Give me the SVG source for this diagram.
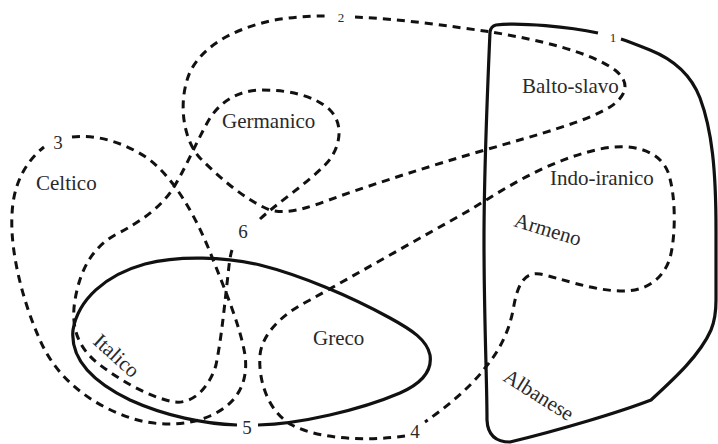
<svg xmlns="http://www.w3.org/2000/svg" width="718" height="444" viewBox="0 0 718 444">
<style>
.solid{fill:none;stroke:#111;stroke-width:3.2;stroke-linejoin:round;stroke-linecap:butt}
.dash{fill:none;stroke:#111;stroke-width:3;stroke-dasharray:8 6}
.lbl{font-family:"Liberation Serif","Times New Roman",serif;font-size:21px;fill:#2a2a2a}
.num{font-family:"Liberation Serif","Times New Roman",serif;font-size:19px;fill:#2a2a2a;text-anchor:middle}
.sm{font-size:13px}
</style>
<rect width="718" height="444" fill="#fff"/>
<g id="connectors">
<path id="c1" class="solid" d="M 598,33 C 570,27 520,22 496,25 Q 491,26 490,32 C 487,100 484,180 484,240 C 484,320 487,380 487,420 Q 488,442 510,442 C 560,430 620,412 651,400 C 675,378 700,355 711,330 Q 716,318 716,300 L 716,230 C 716,170 712,130 700,98 C 690,72 670,58 650,50 C 640,46 630,42 621,39"/>
<path id="c2" class="dash" d="M 355,17 C 400,19 450,26 491,32 C 540,40 590,52 615,70 C 630,82 628,95 610,107 C 585,122 540,134 485,150 C 430,166 380,182 340,196 C 310,207 290,215 270,210 C 245,200 220,178 200,158 C 182,138 178,100 190,72 C 205,42 240,28 270,21 C 290,17 310,16 325,16"/>
<path id="c3" class="dash" d="M 72,137 C 95,134 125,142 150,160 C 175,180 195,215 210,252 C 225,290 240,325 245,355 C 249,385 235,405 210,416 C 185,427 150,427 120,414 C 85,400 55,375 40,340 C 22,300 10,250 12,215 C 13,185 25,162 44,147"/>
<path id="c6" class="dash" d="M 260,219 C 275,205 305,185 325,165 C 340,150 345,125 330,110 C 315,96 290,90 262,90 C 240,90 222,100 210,118 C 198,138 185,170 172,190 C 160,208 140,222 115,235 C 92,248 80,270 75,300 C 70,330 80,350 100,365 C 120,380 150,398 175,402 C 195,404 210,385 216,365 C 222,335 225,300 228,275 C 229,265 230,256 232,250"/>
<path id="c5" class="solid" d="M 258,425 C 300,424 360,410 400,393 C 425,382 432,368 430,355 C 427,340 412,330 390,318 C 350,296 300,275 260,265 C 225,257 180,255 145,264 C 105,275 78,300 73,330 C 70,360 95,383 130,400 C 165,416 205,424 237,425"/>
<path id="c4" class="dash" d="M 405,436 C 370,441 320,440 292,425 C 268,412 258,380 260,355 C 262,335 280,315 310,300 C 360,272 420,238 470,210 C 510,185 550,160 600,149 C 635,142 660,152 668,172 C 676,195 676,235 670,258 C 663,280 645,292 620,291 C 590,290 560,278 540,274 C 522,271 517,290 514,305 C 510,330 500,350 485,368 C 470,388 445,408 425,422"/>
</g>
<g id="n-germanico"><text class="lbl" x="222" y="128">Germanico</text></g>
<g id="n-celtico"><text class="lbl" x="36" y="190">Celtico</text></g>
<g id="n-balto"><text class="lbl" x="522" y="93">Balto-slavo</text></g>
<g id="n-indo"><text class="lbl" x="550" y="185">Indo-iranico</text></g>
<g id="n-armeno"><text class="lbl" transform="translate(513,226) rotate(17)">Armeno</text></g>
<g id="n-greco"><text class="lbl" x="313" y="345">Greco</text></g>
<g id="n-italico"><text class="lbl" transform="translate(92,343) rotate(42)">Italico</text></g>
<g id="n-albanese"><text class="lbl" transform="translate(502,380) rotate(32)">Albanese</text></g>
<g id="n-1"><text class="num sm" x="613" y="42">1</text></g>
<g id="n-2"><text class="num sm" x="341" y="22">2</text></g>
<g id="n-3"><text class="num" x="58" y="149">3</text></g>
<g id="n-4"><text class="num" x="415" y="438">4</text></g>
<g id="n-5"><text class="num" x="247" y="434">5</text></g>
<g id="n-6"><text class="num" x="243" y="238">6</text></g>
</svg>
